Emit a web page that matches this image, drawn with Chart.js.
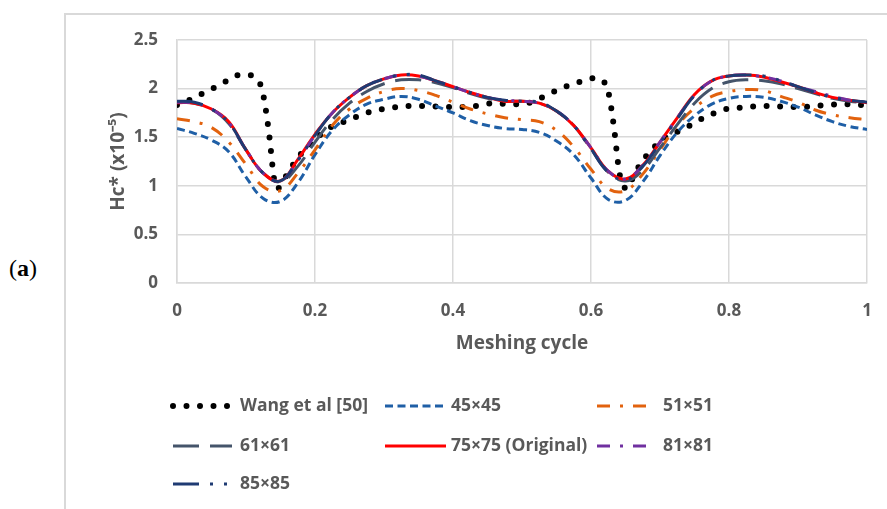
<!DOCTYPE html>
<html>
<head>
<meta charset="utf-8">
<script src="https://cdn.jsdelivr.net/npm/chart.js@4.4.0/dist/chart.umd.min.js"></script>
<style>
  html, body { margin: 0; padding: 0; background: #fff; }
  #wrap { position: relative; width: 887px; height: 509px; overflow: hidden; }
  #frame { position: absolute; left: 64px; top: 13px; width: 900px; height: 600px;
           border: 2px solid #d9d9d9; box-sizing: border-box; }
  #tag { position: absolute; left: 9px; top: 255px; font-family: "Liberation Serif", serif;
         font-size: 24px; color: #000; }
  canvas { position: absolute; left: 0; top: 0; }
</style>
</head>
<body>
<div id="wrap">
  <div id="frame"></div>
  <div id="tag">(<b>a</b>)</div>
  <canvas id="c" width="887" height="509"></canvas>
</div>
<script>
// Meshing-cycle positions shared by the mesh-size series
const meshX = [0, 0.025, 0.05, 0.075, 0.1, 0.125, 0.15, 0.175, 0.2, 0.225,
               0.25, 0.275, 0.3, 0.325, 0.35, 0.375, 0.4, 0.425, 0.45, 0.475,
               0.5, 0.525, 0.55, 0.575, 0.6, 0.625, 0.65, 0.675, 0.7, 0.725,
               0.75, 0.775, 0.8, 0.825, 0.85, 0.875, 0.9, 0.925, 0.95, 0.975, 1];

// Central film thickness Hc* (x10^-5) for each mesh size
const mesh45 = [1.59, 1.54, 1.47, 1.35, 1.09, 0.87, 0.84, 1.03, 1.32, 1.57,
                1.73, 1.84, 1.89, 1.92, 1.89, 1.82, 1.75, 1.67, 1.62, 1.59,
                1.58, 1.55, 1.46, 1.32, 1.08, 0.86, 0.85, 1.04, 1.31, 1.55,
                1.72, 1.84, 1.90, 1.92, 1.91, 1.87, 1.81, 1.73, 1.66, 1.61, 1.58];
const mesh51 = [1.69, 1.66, 1.60, 1.45, 1.22, 0.99, 0.95, 1.13, 1.37, 1.62,
                1.79, 1.90, 1.97, 2.00, 1.98, 1.93, 1.86, 1.79, 1.74, 1.70,
                1.68, 1.66, 1.57, 1.40, 1.17, 0.97, 0.95, 1.12, 1.37, 1.62,
                1.80, 1.92, 1.97, 1.99, 1.98, 1.92, 1.86, 1.78, 1.73, 1.70, 1.68];
const mesh61 = [1.86, 1.85, 1.79, 1.64, 1.37, 1.13, 1.04, 1.20, 1.45, 1.68,
                1.85, 1.97, 2.05, 2.09, 2.09, 2.06, 2.01, 1.95, 1.90, 1.87,
                1.87, 1.85, 1.77, 1.62, 1.38, 1.14, 1.05, 1.16, 1.39, 1.63,
                1.85, 2.00, 2.07, 2.09, 2.08, 2.05, 2.00, 1.95, 1.90, 1.87, 1.85];
const mesh75 = [1.855, 1.85, 1.79, 1.66, 1.37, 1.13, 1.05, 1.27, 1.53, 1.75,
                1.91, 2.03, 2.10, 2.14, 2.13, 2.08, 2.02, 1.96, 1.91, 1.87,
                1.87, 1.85, 1.77, 1.62, 1.39, 1.15, 1.07, 1.21, 1.45, 1.70,
                1.94, 2.08, 2.13, 2.14, 2.12, 2.07, 2.02, 1.96, 1.91, 1.88, 1.855];
const mesh81 = [1.86, 1.85, 1.79, 1.65, 1.37, 1.13, 1.05, 1.26, 1.52, 1.75,
                1.91, 2.03, 2.10, 2.14, 2.13, 2.08, 2.02, 1.96, 1.91, 1.88,
                1.87, 1.85, 1.77, 1.62, 1.39, 1.15, 1.07, 1.21, 1.45, 1.70,
                1.93, 2.08, 2.13, 2.14, 2.12, 2.08, 2.02, 1.97, 1.92, 1.88, 1.86];
const mesh85 = [1.87, 1.86, 1.79, 1.65, 1.37, 1.13, 1.05, 1.26, 1.52, 1.75,
                1.91, 2.03, 2.10, 2.14, 2.14, 2.08, 2.02, 1.96, 1.91, 1.88,
                1.87, 1.86, 1.77, 1.62, 1.38, 1.14, 1.06, 1.20, 1.44, 1.69,
                1.93, 2.08, 2.13, 2.14, 2.13, 2.08, 2.02, 1.96, 1.91, 1.88, 1.86];

// Reference solution of Wang et al [50]
const wangX = [0, 0.02, 0.04, 0.06, 0.075, 0.09, 0.105, 0.115, 0.122, 0.126,
               0.13, 0.134, 0.137, 0.14, 0.145, 0.159, 0.173, 0.185, 0.2, 0.217,
               0.235, 0.25, 0.27, 0.29, 0.31, 0.33, 0.36, 0.4, 0.42, 0.44,
               0.46, 0.48, 0.5, 0.52, 0.535, 0.55, 0.57, 0.59, 0.607, 0.617,
               0.623, 0.627, 0.631, 0.635, 0.638, 0.642, 0.652, 0.663, 0.676, 0.688,
               0.702, 0.72, 0.736, 0.752, 0.77, 0.79, 0.81, 0.85, 0.9, 0.94,
               0.96, 1];
const wangY = [1.83, 1.89, 1.96, 2.03, 2.09, 2.14, 2.14, 2.10, 2.02, 1.90,
               1.72, 1.50, 1.30, 1.10, 0.97, 1.11, 1.27, 1.37, 1.47, 1.58,
               1.64, 1.68, 1.74, 1.78, 1.80, 1.82, 1.82, 1.81, 1.81, 1.83,
               1.85, 1.84, 1.84, 1.88, 1.93, 1.98, 2.04, 2.08, 2.11, 2.08,
               2.02, 1.90, 1.72, 1.50, 1.30, 1.10, 0.97, 1.12, 1.27, 1.37,
               1.47, 1.54, 1.59, 1.66, 1.72, 1.78, 1.80, 1.82, 1.81, 1.83,
               1.84, 1.83];

const seriesNames = ['Wang et al [50]', '45×45', '51×51', '61×61', '75×75 (Original)', '81×81', '85×85'];
const xTitle = 'Meshing cycle';
const yTitle = 'Hc* (x10⁻⁵)';

const TEXT = '#595959';
const GRID = '#d9d9d9';
const FONT = '"Open Sans", "Liberation Sans", sans-serif';

const pairs = (xs, ys) => xs.map((x, i) => ({ x: x, y: ys[i] }));
// plain number labels: 0, 0.5, 1, 1.5 ...
const plainTick = v => String(Math.round(v * 100) / 100);

const datasets = [
  { label: seriesNames[0], data: pairs(wangX, wangY), borderColor: '#000000',
    borderWidth: 6, borderDash: [0, 13.5], borderCapStyle: 'round',
    cubicInterpolationMode: 'monotone', order: 7 },
  { label: seriesNames[1], data: pairs(meshX, mesh45), borderColor: '#1f5fa6',
    borderWidth: 3, borderDash: [8, 4.5], tension: 0.4, order: 6 },
  { label: seriesNames[2], data: pairs(meshX, mesh51), borderColor: '#e2620e',
    borderWidth: 3, borderDash: [13, 10, 3, 10], tension: 0.4, order: 5 },
  { label: seriesNames[3], data: pairs(meshX, mesh61), borderColor: '#44546a',
    borderWidth: 3, borderDash: [26, 11], tension: 0.4, order: 4 },
  { label: seriesNames[4], data: pairs(meshX, mesh75), borderColor: '#ff0000',
    borderWidth: 3, tension: 0.4, order: 3 },
  { label: seriesNames[5], data: pairs(meshX, mesh81), borderColor: '#7030a0',
    borderWidth: 3, borderDash: [13, 10, 3, 10], tension: 0.4, order: 2 },
  { label: seriesNames[6], data: pairs(meshX, mesh85), borderColor: '#1f3b73',
    borderWidth: 3, borderDash: [26, 11, 3, 11, 3, 11], tension: 0.4, order: 1 }
];

// Three-column legend beneath the axis title
const gridLegend = {
  id: 'gridLegend',
  afterDraw(chart) {
    const ctx = chart.ctx;
    const cols = [{ x0: 173, x1: 232, tx: 240 }, { x0: 385, x1: 446, tx: 451 }, { x0: 597, x1: 648, tx: 663 }];
    const rows = [406, 446, 484];
    chart.data.datasets.forEach((ds, i) => {
      const c = cols[i % 3];
      const y = rows[Math.floor(i / 3)];
      ctx.save();
      ctx.strokeStyle = ds.borderColor;
      ctx.lineWidth = ds.borderWidth;
      ctx.lineCap = ds.borderCapStyle || 'butt';
      ctx.setLineDash(ds.borderDash || []);
      ctx.beginPath();
      ctx.moveTo(c.x0, y);
      ctx.lineTo(c.x1, y);
      ctx.stroke();
      ctx.setLineDash([]);
      ctx.fillStyle = TEXT;
      ctx.font = 'bold 17.5px ' + FONT;
      ctx.textBaseline = 'middle';
      ctx.fillText(ds.label, c.tx, y);
      ctx.restore();
    });
  }
};

new Chart(document.getElementById('c'), {
  type: 'line',
  data: { datasets: datasets },
  options: {
    responsive: false,
    devicePixelRatio: 1,
    animation: false,
    elements: { point: { radius: 0 } },
    layout: { padding: { left: 107, top: 40, right: 20, bottom: 154 } },
    plugins: { legend: { display: false }, tooltip: { enabled: false } },
    scales: {
      x: {
        type: 'linear', min: 0, max: 1,
        ticks: { stepSize: 0.2, color: TEXT, padding: 18, callback: plainTick,
                 font: { family: FONT, size: 17, weight: 'bold' } },
        grid: { color: GRID, lineWidth: 1.5, drawTicks: false },
        border: { color: GRID, width: 1.5 },
        title: { display: true, text: xTitle, color: TEXT, padding: 0,
                 font: { family: FONT, size: 19, weight: 'bold' } },
        afterFit(scale) { scale.height = 72; scale.paddingLeft = 0; scale.paddingRight = 0; }
      },
      y: {
        min: 0, max: 2.5,
        ticks: { stepSize: 0.5, color: TEXT, padding: 19, callback: plainTick,
                 font: { family: FONT, size: 17, weight: 'bold' } },
        grid: { color: GRID, lineWidth: 1.5, drawTicks: false },
        border: { color: GRID, width: 1.5 },
        title: { display: true, text: yTitle, color: TEXT, padding: 0,
                 font: { family: FONT, size: 19, weight: 'bold' } },
        afterFit(scale) { scale.width = 70; }
      }
    }
  },
  plugins: [gridLegend]
});
</script>
</body>
</html>
